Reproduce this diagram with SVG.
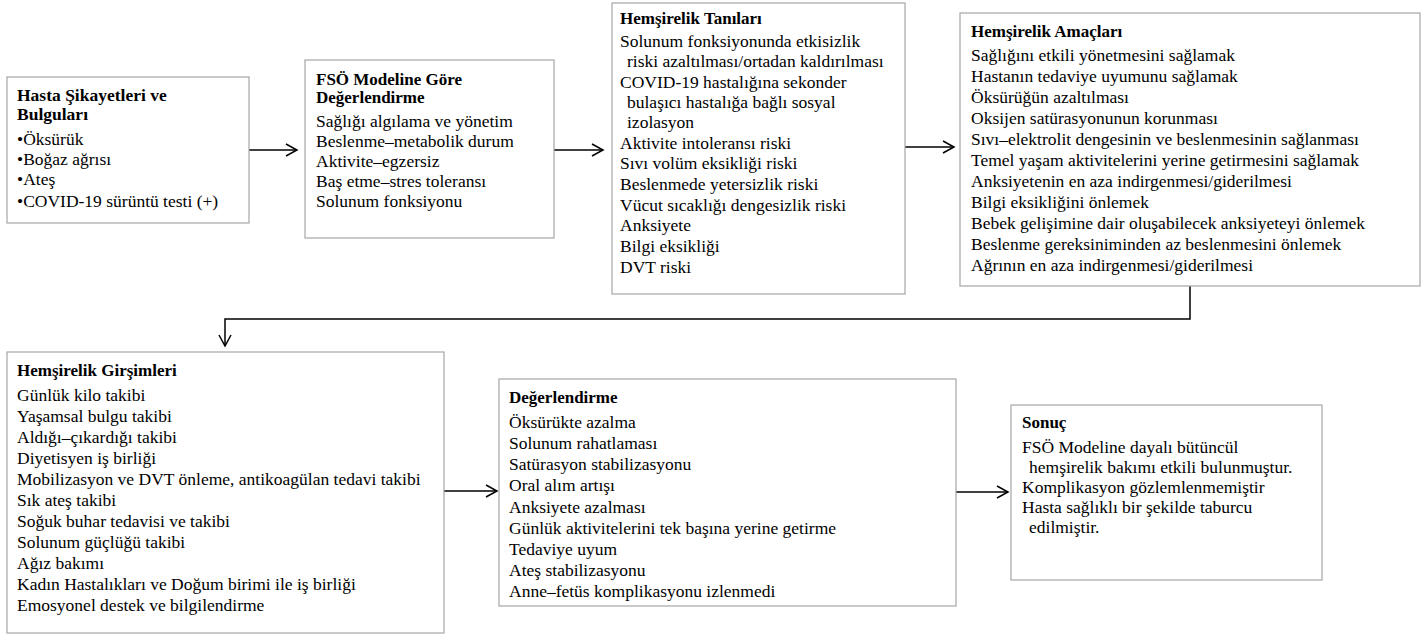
<svg xmlns="http://www.w3.org/2000/svg" width="1427" height="639" viewBox="0 0 1427 639">
<style>
.box{fill:#fff;stroke:#a6a6a6;stroke-width:1.2}
text{font-family:'Liberation Serif','Times New Roman',serif;font-size:17.5px;fill:#000}
.t{font-weight:bold;font-size:17px}
.tb{font-weight:bold;font-size:17.5px}
.c{fill:none;stroke:#000;stroke-width:1.5}
</style>
<defs>
<marker id="ah" markerUnits="userSpaceOnUse" markerWidth="14" markerHeight="14" refX="12" refY="7" orient="auto">
<path d="M1,1 L12,7 L1,13" fill="none" stroke="#000" stroke-width="1.5"/>
</marker>
</defs>
<rect width="1427" height="639" fill="#fff"/>
<g id="connectors">
<line class="c" x1="249" y1="150" x2="297" y2="150" marker-end="url(#ah)"/>
<line class="c" x1="554" y1="150" x2="603" y2="150" marker-end="url(#ah)"/>
<line class="c" x1="905" y1="147" x2="954" y2="147" marker-end="url(#ah)"/>
<polyline class="c" points="1190,286 1190,319 225,319 225,346" marker-end="url(#ah)"/>
<line class="c" x1="444" y1="491" x2="497" y2="491" marker-end="url(#ah)"/>
<line class="c" x1="956" y1="492" x2="1008" y2="492" marker-end="url(#ah)"/>
</g>
<g id="n1">
<rect class="box" x="7" y="77" width="242" height="146"/>
<text class="tb" x="17" y="101">Hasta Şikayetleri ve</text>
<text class="tb" x="17" y="120">Bulguları</text>
<text x="17" y="145">•Öksürük</text>
<text x="17" y="165">•Boğaz ağrısı</text>
<text x="17" y="185">•Ateş</text>
<text x="17" y="207">•COVID-19 sürüntü testi (+)</text>
</g>
<g id="n2">
<rect class="box" x="305" y="60" width="249" height="178"/>
<text class="t" x="316" y="85">FSÖ Modeline Göre</text>
<text class="t" x="316" y="103">Değerlendirme</text>
<text x="316" y="127">Sağlığı algılama ve yönetim</text>
<text x="316" y="147">Beslenme–metabolik durum</text>
<text x="316" y="167">Aktivite–egzersiz</text>
<text x="316" y="187">Baş etme–stres toleransı</text>
<text x="316" y="207">Solunum fonksiyonu</text>
</g>
<g id="n3">
<rect class="box" x="612" y="3" width="293" height="291"/>
<text class="t" x="620" y="24">Hemşirelik Tanıları</text>
<text x="620" y="47">Solunum fonksiyonunda etkisizlik</text>
<text x="627" y="67">riski azaltılması/ortadan kaldırılması</text>
<text x="620" y="88">COVID-19 hastalığına sekonder</text>
<text x="627" y="108">bulaşıcı hastalığa bağlı sosyal</text>
<text x="627" y="128">izolasyon</text>
<text x="620" y="149">Aktivite intoleransı riski</text>
<text x="620" y="169">Sıvı volüm eksikliği riski</text>
<text x="620" y="190">Beslenmede yetersizlik riski</text>
<text x="620" y="211">Vücut sıcaklığı dengesizlik riski</text>
<text x="620" y="231">Anksiyete</text>
<text x="620" y="252">Bilgi eksikliği</text>
<text x="620" y="273">DVT riski</text>
</g>
<g id="n4">
<rect class="box" x="960" y="13" width="460" height="273"/>
<text class="t" x="971" y="37">Hemşirelik Amaçları</text>
<text x="971" y="61">Sağlığını etkili yönetmesini sağlamak</text>
<text x="971" y="82">Hastanın tedaviye uyumunu sağlamak</text>
<text x="971" y="103">Öksürüğün azaltılması</text>
<text x="971" y="124">Oksijen satürasyonunun korunması</text>
<text x="971" y="145">Sıvı–elektrolit dengesinin ve beslenmesinin sağlanması</text>
<text x="971" y="166">Temel yaşam aktivitelerini yerine getirmesini sağlamak</text>
<text x="971" y="187">Anksiyetenin en aza indirgenmesi/giderilmesi</text>
<text x="971" y="208">Bilgi eksikliğini önlemek</text>
<text x="971" y="229">Bebek gelişimine dair oluşabilecek anksiyeteyi önlemek</text>
<text x="971" y="250">Beslenme gereksiniminden az beslenmesini önlemek</text>
<text x="971" y="271">Ağrının en aza indirgenmesi/giderilmesi</text>
</g>
<g id="n5">
<rect class="box" x="7" y="352" width="437" height="281"/>
<text class="t" x="17" y="376">Hemşirelik Girşimleri</text>
<text x="17" y="401">Günlük kilo takibi</text>
<text x="17" y="422">Yaşamsal bulgu takibi</text>
<text x="17" y="443">Aldığı–çıkardığı takibi</text>
<text x="17" y="464">Diyetisyen iş birliği</text>
<text x="17" y="485">Mobilizasyon ve DVT önleme, antikoagülan tedavi takibi</text>
<text x="17" y="506">Sık ateş takibi</text>
<text x="17" y="527">Soğuk buhar tedavisi ve takibi</text>
<text x="17" y="548">Solunum güçlüğü takibi</text>
<text x="17" y="569">Ağız bakımı</text>
<text x="17" y="590">Kadın Hastalıkları ve Doğum birimi ile iş birliği</text>
<text x="17" y="611">Emosyonel destek ve bilgilendirme</text>
</g>
<g id="n6">
<rect class="box" x="499" y="379" width="457" height="227"/>
<text class="t" x="509" y="403">Değerlendirme</text>
<text x="509" y="428">Öksürükte azalma</text>
<text x="509" y="449">Solunum rahatlaması</text>
<text x="509" y="470">Satürasyon stabilizasyonu</text>
<text x="509" y="491">Oral alım artışı</text>
<text x="509" y="513">Anksiyete azalması</text>
<text x="509" y="534">Günlük aktivitelerini tek başına yerine getirme</text>
<text x="509" y="555">Tedaviye uyum</text>
<text x="509" y="576">Ateş stabilizasyonu</text>
<text x="509" y="597">Anne–fetüs komplikasyonu izlenmedi</text>
</g>
<g id="n7">
<rect class="box" x="1011" y="405" width="311" height="175"/>
<text class="t" x="1022" y="428">Sonuç</text>
<text x="1022" y="453">FSÖ Modeline dayalı bütüncül</text>
<text x="1029" y="473">hemşirelik bakımı etkili bulunmuştur.</text>
<text x="1022" y="493">Komplikasyon gözlemlenmemiştir</text>
<text x="1022" y="513">Hasta sağlıklı bir şekilde taburcu</text>
<text x="1029" y="533">edilmiştir.</text>
</g>
</svg>
